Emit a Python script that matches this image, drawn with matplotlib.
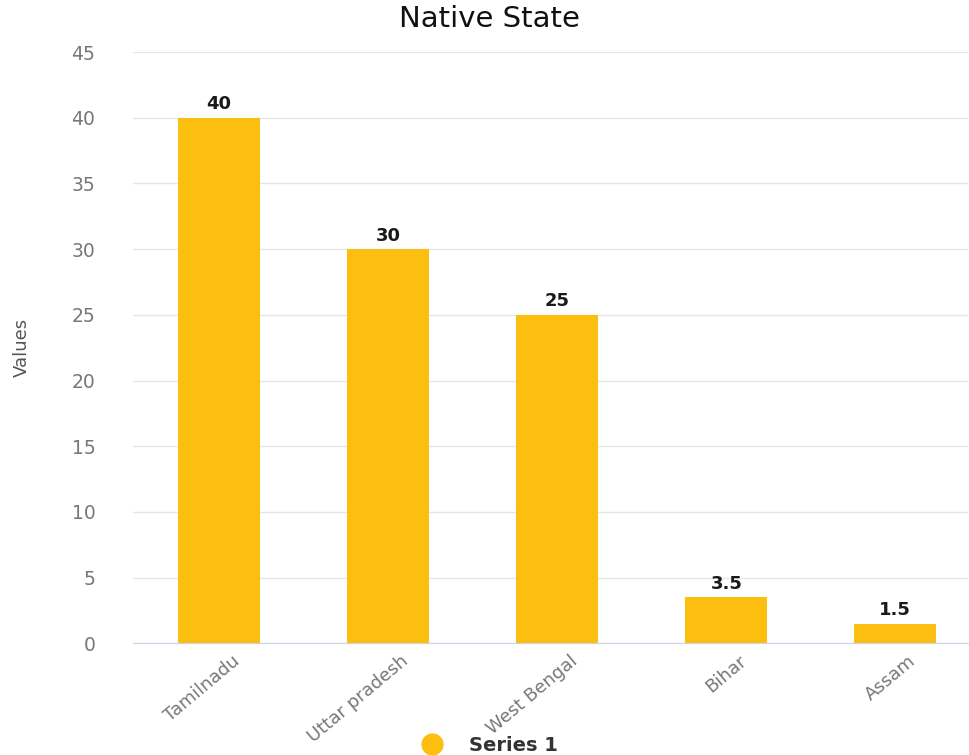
import matplotlib.pyplot as plt
from matplotlib.lines import Line2D

states = ["Tamilnadu", "Uttar pradesh", "West Bengal", "Bihar", "Assam"]
values = [40, 30, 25, 3.5, 1.5]
y_ticks = [0, 5, 10, 15, 20, 25, 30, 35, 40, 45]

bar_color = "#fcbf0f"

fig = plt.figure(figsize=(9.7, 7.55), dpi=100)
ax = fig.add_axes([0.137, 0.148, 0.861, 0.783])

x = list(range(len(states)))
bars = ax.bar(x, values, width=0.485, color=bar_color, zorder=2)

# value labels on top of bars
for b, v in zip(bars, values):
    ax.text(b.get_x() + b.get_width() / 2, v + 0.35, f"{v:g}", ha="center", va="bottom",
            fontsize=13, fontweight="bold", color="#1a1a1a")

ax.set_xlim(-0.509, 4.43)
ax.set_ylim(0, 45)
ax.set_yticks(y_ticks)
ax.set_xticks(x)
ax.set_xticklabels([])
# category labels, rotated, end a bit right of the bar centre
for xi, name in zip(x, states):
    ax.annotate(name, xy=(xi, 0), xycoords=("data", "axes fraction"),
                xytext=(9, -6), textcoords="offset points",
                rotation=40, ha="right", va="top", rotation_mode="anchor",
                fontsize=13, color="#777777")
ax.tick_params(axis="y", labelsize=13.5, labelcolor="#777777", length=0, pad=27)
ax.tick_params(axis="x", length=0)

ax.grid(axis="y", color="#e6e6e6", linewidth=1, zorder=0)
for s in ["top", "right", "left"]:
    ax.spines[s].set_visible(False)
ax.spines["bottom"].set_color("#ccd6eb")
ax.spines["bottom"].set_zorder(3)

ax.set_ylabel("Values", fontsize=13, color="#555555")
ax.yaxis.set_label_coords(-0.122, 0.5)
fig.text(0.505, 0.975, "Native State", ha="center", va="center", fontsize=21, color="#111111")

handle = Line2D([], [], marker="o", linestyle="none", markersize=15,
                markerfacecolor=bar_color, markeredgecolor=bar_color)
leg = fig.legend([handle], ["Series 1"], loc="center", bbox_to_anchor=(0.5, 0.013),
                 frameon=False, handletextpad=0.9, prop={"weight": "bold", "size": 14})
leg.get_texts()[0].set_color("#333333")

fig.savefig("out.png", dpi=100)
